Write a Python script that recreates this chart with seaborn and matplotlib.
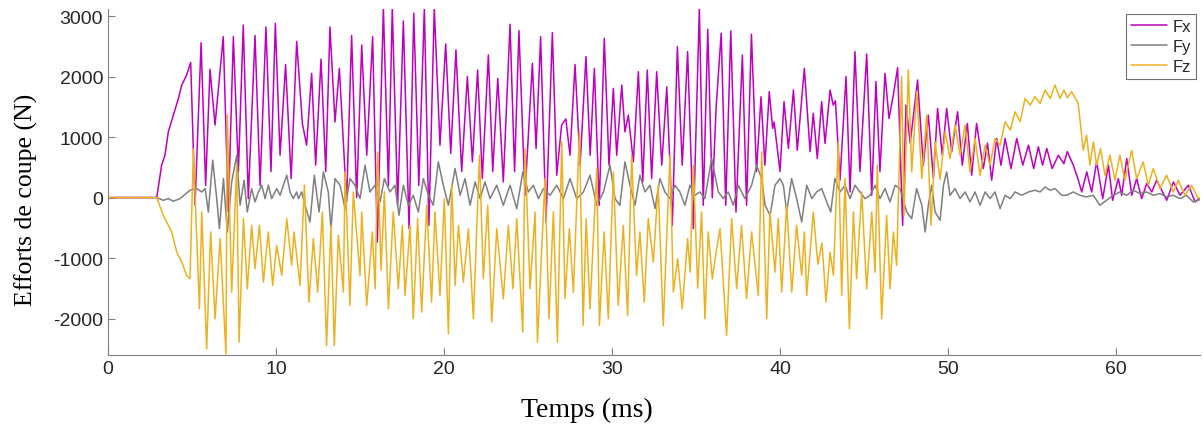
import numpy as np
import pandas as pd
import matplotlib
matplotlib.use("Agg")
import matplotlib.pyplot as plt
import seaborn as sns

# -- values (time in ms, force in N) --
t_fx = [0, 2.9, 3.19, 3.39, 3.59, 3.89, 4.19, 4.39, 4.68, 4.92,
        5.18, 5.54, 5.81, 6.07, 6.37, 6.86, 7.16, 7.46, 7.76, 8.05, 8.35, 8.75, 9.05, 9.4, 9.7, 9.96,
        10.24, 10.57, 10.9, 11.23, 11.57, 11.82, 12.12, 12.36, 12.68, 12.96, 13.21, 13.51, 13.77,
        14.2, 14.5, 14.8, 15.1, 15.4, 15.75, 16.03, 16.39, 16.69, 16.92, 17.24, 17.58, 17.92, 18.2,
        18.5, 18.83, 19.1, 19.42, 19.76, 20.1, 20.4, 20.71, 21.05, 21.39, 21.69, 22.0, 22.28, 22.64,
        22.9, 23.2, 23.53, 23.93, 24.2, 24.46, 24.82, 25.26, 25.48, 25.75, 26.07, 26.45, 26.71, 27.0,
        27.25, 27.5, 27.8, 28.1, 28.45, 28.7, 28.95, 29.24, 29.54, 29.82, 30.08, 30.28, 30.58, 30.77,
        30.97, 31.27, 31.57, 31.83, 32.1, 32.36, 32.66, 32.96, 33.26, 33.59, 33.89, 34.18, 34.5,
        34.84, 35.2, 35.43, 35.7, 35.97, 36.2, 36.5, 36.77, 37.07, 37.38, 37.76, 38.01, 38.3, 38.6,
        38.87, 39.1, 39.36, 39.56, 39.65, 40.0, 40.24, 40.5, 40.8, 41.03, 41.45, 41.79, 41.98, 42.22,
        42.48, 42.68, 42.98, 43.17, 43.3, 43.57, 43.93, 44.17, 44.46, 44.76, 45.16, 45.46, 45.71,
        45.95, 46.25, 46.49, 46.75, 47.0, 47.3, 47.5, 47.75, 48.19, 48.53, 48.83, 49.13, 49.38,
        49.66, 49.92, 50.22, 50.57, 50.85, 51.15, 51.41, 51.7, 52.1, 52.35, 52.6, 52.9, 53.15, 53.4,
        53.75, 54.09, 54.45, 54.79, 55.1, 55.38, 55.63, 55.88, 56.2, 56.57, 56.9, 57.1, 57.46, 57.76,
        57.96, 58.26, 58.55, 58.85, 59.21, 59.55, 59.8, 60.14, 60.34, 60.64, 60.94, 61.23, 61.53,
        61.83, 62.13, 62.42, 63.02, 63.42, 63.81, 64.31, 64.71, 65.2]
fx = [0, 0, 535, 700, 1087, 1363, 1639, 1860, 2025, 2235,
      -127, 2560, 200, 2120, 1200, 2660, -230, 2660, 430, 2850, -17, 2680, 200, 2820, 430, 2880,
      700, 2200, 315, 2580, 1225, 866, 2053, 535, 2290, 430, 2820, 1250, 2136,
      -70, 2680, 0, 2520, 700, 2660, -735, 3130, 200, 3130, -127, 2920, -513, 3047,
      200, 3130, -460, 3130, 866, 2540, 730, 2440, 430, 2000, 590, 2108, 315, 2357,
      430, 1970, 260, 2865, 430, 2760, 38, 2220, 811, 2660, -403, 2727, 370, 1200,
      1300, 700, 2200, 535, 2330, 700, 2136, -127, 2633, 535, 1805, 700, 1860, 1088,
      1363, 590, 2080, 260, 2108, 315, 2080, 535, 1830, -460, 2495, 535, 2412,
      -513, 3130, -127, 2782, 0, 1500, 2716, -127, 2754, -240, 2357, -127, 2700, 430,
      1667, 535, 1750, 1143, 1250, 430, 1585, 811, 1777, 783, 2136, 760, 1391, 646,
      1585, 894, 1777, 1528, 1600, 287, 2000, 94, 2412, 430, 2373, 38, 1916,
      430, 2053, 1308, 1700, 2147, -460, 1528, 900, 1943, 535, 1363, 315, 1474,
      700, 1474, 757, 1419, 535, 1225, 370, 1225, 480, 900, 287, 977, 535, 977,
      480, 977, 535, 866, 480, 839, 535, 811, 480, 700, 560, 760, 535, 287,
      93, 425, 93, 590, -17, 535, -45, 314, 38, 645, 38, 314, -17,
      231, 93, 287, -45, 259, 38, 204, -72, 38]

t_fy = [0, 2.9, 3.29, 3.59, 3.89, 4.29, 4.88, 5.28, 5.58, 5.78, 5.97, 6.23, 6.47, 6.63, 6.87,
        7.1, 7.36, 7.66, 7.86, 8.1, 8.29, 8.55, 8.75, 8.95, 9.15, 9.35, 9.54, 9.74, 10.04, 10.24,
        10.64, 10.83, 11.03, 11.23, 11.33, 11.53, 11.73, 12.02, 12.28, 12.56, 12.82, 13.11, 13.27,
        13.51, 13.81, 14.11, 14.4, 14.7, 15.0, 15.3, 15.59, 15.89, 16.19, 16.45, 16.78, 17.08,
        17.32, 17.58, 17.88, 18.17, 18.47, 18.77, 19.07, 19.36, 19.66, 19.96, 20.26, 20.66, 20.96,
        21.25, 21.55, 21.85, 22.15, 22.44, 22.74, 23.14, 23.53, 23.93, 24.33, 24.69, 25.02, 25.32,
        25.62, 25.92, 26.31, 26.71, 27.11, 27.5, 27.9, 28.3, 28.69, 29.09, 29.49, 29.88, 30.18,
        30.47, 30.77, 31.07, 31.37, 31.66, 31.96, 32.26, 32.56, 32.85, 33.15, 33.45, 33.75, 34.04,
        34.34, 34.64, 34.94, 35.23, 35.53, 35.93, 36.33, 36.62, 36.92, 37.22, 37.52, 37.91, 38.31,
        38.61, 38.91, 39.11, 39.41, 39.7, 40.0, 40.2, 40.4, 40.69, 40.99, 41.29, 41.59, 41.89,
        42.18, 42.48, 42.78, 43.02, 43.27, 43.57, 43.87, 44.17, 44.46, 44.76, 45.06, 45.36, 45.66,
        45.95, 46.25, 46.55, 46.85, 47.14, 47.54, 47.84, 48.13, 48.44, 48.64, 48.83, 49.03, 49.23,
        49.53, 49.73, 49.92, 50.12, 50.42, 50.72, 51.02, 51.31, 51.61, 51.91, 52.21, 52.5, 52.8,
        53.1, 53.4, 53.7, 53.99, 54.39, 54.79, 55.18, 55.48, 55.78, 56.08, 56.37, 56.77, 57.06,
        57.46, 57.85, 58.25, 58.65, 59.04, 59.44, 59.84, 60.23, 60.63, 61.03, 61.42, 61.82, 62.22,
        62.62, 63.01, 63.41, 63.81, 64.2, 64.6, 65.17]
fy = [0, 0, -45, -17, -61, -17, 121, 149, 93, 149, -238, 618, -17, -514, 314,
      -569, 259, 701, -127, 287, -238, 149, -72, 93, 204, -17, 204, -17, 149, 38,
      369, 93, -17, 93, -17, 93, -127, -403, 369, -238, 425, 93, -514,
      314, 204, -182, 314, 204, -17, 535, 93, 204, -72, 314, 93, 204,
      -293, 204, -127, 38, -238, 314, 38, -127, 590, 204, -127, 480, 38,
      314, -127, 259, -17, 259, -17, 204, -127, 204, -182, 425, 93, 204,
      -17, 149, 38, 204, -17, 314, -17, 93, 369, -127, 93, 535, -17,
      -127, 590, 204, -127, 369, 93, 204, -182, 314, 93, -17, 204, 93,
      -127, 204, 38, 93, -17, 645, 93, -17, 93, -127, 204, -17, 204,
      535, 314, -127, -293, 204, 314, 204, -238, 314, -17, -403, 204, -17,
      93, 149, -72, -238, 314, 93, 204, -17, 204, 93, -17, 38, 204,
      -17, 149, -72, 204, 149, -238, -348, 149, -127, -569, -127, 204, -238,
      -376, 204, 425, 38, 149, -17, 93, -72, 93, -127, 93, -17, 93,
      -182, 38, -17, 93, 38, 93, 121, 93, 176, 121, 149, 38, 38,
      93, 38, 11, 38, -127, -45, 38, 93, 38, 121, 66, 93, 38,
      66, 11, 38, -17, 38, -72, -17]

t_fz = [0, 2.9, 3.29, 3.79, 4.09, 4.39, 4.68, 4.88, 5.08, 5.44, 5.58, 5.87, 6.11, 6.37, 6.67,
        7.02, 7.1, 7.36, 7.66, 7.8, 8.06, 8.29, 8.55, 8.75, 9.01, 9.25, 9.54, 9.8, 10.04, 10.34,
        10.64, 10.93, 11.07, 11.43, 11.69, 11.96, 12.22, 12.48, 12.76, 13.01, 13.27, 13.47, 13.71,
        14.01, 14.11, 14.4, 14.6, 15.0, 15.1, 15.4, 15.73, 15.9, 16.05, 16.25, 16.45, 16.69, 16.98,
        17.28, 17.52, 17.68, 17.98, 18.17, 18.43, 18.67, 18.97, 19.26, 19.46, 19.76, 20.02, 20.26,
        20.46, 20.66, 20.86, 21.15, 21.45, 21.75, 22.11, 22.34, 22.6, 22.84, 23.14, 23.53, 23.83,
        24.1, 24.33, 24.69, 24.82, 25.12, 25.42, 25.56, 26.01, 26.25, 26.51, 26.75, 27.01, 27.2,
        27.46, 27.7, 28.06, 28.28, 28.46, 28.69, 29.09, 29.25, 29.53, 29.78, 30.08, 30.37, 30.67,
        30.93, 31.17, 31.46, 31.66, 31.92, 32.16, 32.46, 32.75, 33.05, 33.45, 33.65, 33.91, 34.18,
        34.5, 34.65, 34.84, 35.1, 35.33, 35.53, 35.73, 35.97, 36.2, 36.43, 36.82, 37.12, 37.42,
        37.71, 38.01, 38.31, 38.71, 38.91, 39.21, 39.4, 39.7, 39.9, 40.1, 40.4, 40.7, 40.99, 41.29,
        41.45, 41.59, 41.98, 42.25, 42.5, 42.74, 42.98, 43.18, 43.47, 43.67, 43.87, 44.13, 44.37,
        44.56, 44.86, 45.16, 45.46, 45.66, 45.79, 46.05, 46.35, 46.55, 46.75, 46.94, 47.24, 47.38,
        47.64, 47.84, 48.14, 48.44, 48.73, 48.99, 49.23, 49.53, 49.83, 50.12, 50.42, 50.72, 51.02,
        51.31, 51.61, 51.91, 52.21, 52.5, 52.8, 53.1, 53.4, 53.7, 53.99, 54.29, 54.59, 54.89, 55.18,
        55.48, 55.78, 56.08, 56.37, 56.67, 56.9, 57.1, 57.36, 57.75, 58.05, 58.25, 58.45, 58.65,
        58.85, 59.08, 59.34, 59.64, 59.94, 60.23, 60.53, 60.93, 61.23, 61.62, 61.92, 62.22, 62.62,
        63.01, 63.41, 63.71, 64.1, 64.5, 64.9, 65.17]
fz = [0, 0, -293, -569, -900, -1066, -1287, -1342, 800, -1839, -238, -2501, -569, -2004, -679,
      -2584, 1363, -1563, 535, -2391, -348, -1507, -459, -1176, -459, -1397, -569, -1452, -790, -1287,
      -348, -1121, -569, -1452, 204, -1728, -679, -1563, -238, -2446, -459, -2446, -624,
      -1563, 425, -1783, 93, -1287, -238, -1783, -569, -1507, 756, -1200, 93, -1839, -238,
      -1507, -459, -1618, -459, -2004, -348, -1894, -127, -1728, -238, -1618, -17, -2253,
      204, -1452, -459, -1397, -514, -2004, 701, -1342, -127, -2059, -514, -1673, -459,
      -1507, -348, -2225, 811, -1507, -238, -2391, 314, -2004, -238, -2391, 921, -1673,
      -514, -1563, 1087, -2114, -348, -1839, 480, -2114, -569, -2004, 425, -1783, -459,
      -1949, 701, -1287, -569, -1728, -348, -1066, 204, -2114, 701, -1563, -1011, -1839,
      -679, -1232, 535, -1500, -238, -2004, -569, -1342, -900, -514, -2280, -348, -1507,
      -459, -1673, -569, -1618, 756, -2004, -238, -1232, -348, -1563, -127, -1563, -459, -1287,
      -569, -1618, -238, -1100, -750, -1728, -900, -1287, 921, -1618, 314, -2170, -238,
      -1342, 93, -1507, -238, -1232, 535, -2004, -293, -1507, -569, -1121, 1998, -293,
      2108, 425, 1750, 314, 1363, -459, 921, 300, 1087, 645, 1197, 700, 1197,
      425, 977, 369, 866, 535, 977, 866, 1253, 1115, 1418, 1253, 1639, 1529, 1667,
      1556, 1777, 1639, 1860, 1639, 1780, 1650, 1750, 1556, 783, 1032, 535, 921,
      535, 811, 369, 701, 287, 701, 287, 783, 314, 590, 204, 480, 149,
      369, 93, 287, 38, 204, -17, 38]

series = ["Fx", "Fy", "Fz"]
colors = {"Fx": "#BF00BF", "Fy": "#7F7F7F", "Fz": "#EDB120"}

df = pd.concat([
    pd.DataFrame({"t": t_fx, "F": fx, "comp": "Fx"}),
    pd.DataFrame({"t": t_fy, "F": fy, "comp": "Fy"}),
    pd.DataFrame({"t": t_fz, "F": fz, "comp": "Fz"}),
], ignore_index=True)

sns.set_style("ticks")
plt.rcParams["font.family"] = ["Liberation Sans", "DejaVu Sans"]
plt.rcParams["axes.unicode_minus"] = False  # plain hyphen like the original

fig = plt.figure(figsize=(12.03, 4.27), dpi=100)
ax = fig.add_axes([0.0898, 0.166, 0.9077, 0.811])

for name in series:
    sub = df[df["comp"] == name]
    sns.lineplot(data=sub, x="t", y="F", ax=ax, color=colors[name], lw=1.1,
                 label=name, estimator=None, sort=False)

ax.set_xlim(0, 65)
ax.set_ylim(-2604, 3120)
ax.set_xticks(np.arange(0, 61, 10))
ax.set_yticks(np.arange(-2000, 3001, 1000))
sns.despine(ax=ax)
for s in ["left", "bottom"]:
    ax.spines[s].set_color("#808080")
ax.tick_params(direction="in", length=5, colors="#808080", labelcolor="#262626", labelsize=14)

ax.set_xlabel("Temps (ms)", family="Liberation Serif", fontsize=20, color="black")
ax.set_ylabel("Efforts de coupe (N)", family="Liberation Serif", fontsize=18.5, color="black")
ax.xaxis.set_label_coords(0.4386, -0.12)
ax.yaxis.set_label_coords(-0.064, 0.45)

leg = ax.legend(loc="upper right", bbox_to_anchor=(0.9963, 0.9855), fontsize=12,
                frameon=True, fancybox=False, handlelength=2.2, handletextpad=0.3,
                labelspacing=0.3, borderpad=0.3, borderaxespad=0)
leg.get_frame().set_edgecolor("#4d4d4d")
leg.get_frame().set_linewidth(0.8)

fig.savefig("out.png", dpi=100)
